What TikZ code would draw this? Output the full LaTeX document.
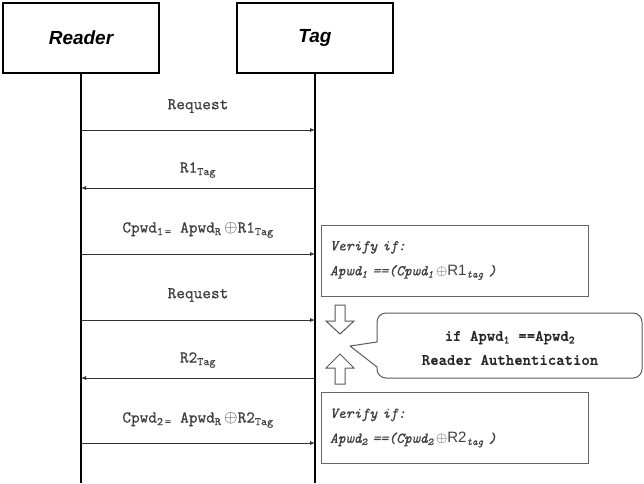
\documentclass[tikz,border=0pt]{standalone}
\usepackage{fontspec}
\newfontfamily\hsans{Liberation Sans}
\newfontfamily\lbmono{lmmono10-regular.otf}[FakeBold=0.8, ItalicFont=lmmono10-italic.otf, ItalicFeatures={FakeBold=0.8}, BoldFont=lmmonolt10-bold.otf]
\usetikzlibrary{arrows.meta}
\tikzset{
  actor/.style={draw, line width=1.3pt, minimum width=156pt, minimum height=70pt, inner sep=0pt,
    font=\hsans\bfseries\itshape\fontsize{19}{22}\selectfont},
  life/.style={line width=2pt},
  msg/.style={-{Latex[length=5pt,width=4pt]}, line width=0.8pt, draw=black!80},
  lbl/.style={font=\lbmono\fontsize{16.5}{18}\selectfont, text=black!75, inner sep=0pt},
  vbox/.style={draw=black!60, line width=0.8pt, minimum width=267pt, minimum height=71pt,
    text width=249pt, inner xsep=9pt, align=left, text=black!75,
    font=\lbmono\itshape\fontsize{15}{25}\selectfont},
  hollow/.style={draw=black!65, line width=1pt, fill=white},
  callout/.style={draw=black!65, line width=1pt},
  ctext/.style={font=\lbmono\bfseries\fontsize{16}{24}\selectfont, align=center, text=black!85, inner sep=0pt}
}
\begin{document}
\begin{tikzpicture}[x=1pt,y=-1pt]
\useasboundingbox (0,0) rectangle (644,483);
% actors
\node[actor] (reader) at (81,38) {Reader};
\node[actor] (tag) at (315,38) {Tag};
\coordinate (rend) at (81,483);
\coordinate (tend) at (315,483);
\draw[life] (reader.south) -- (rend);
\draw[life] (tag.south) -- (tend);
% message points on lifelines
\foreach \n/\y in {1/130,2/188,3/254,4/320,5/378,6/443}{
  \coordinate (r\n) at (81,\y);
  \coordinate (t\n) at (315,\y);
}
\draw[msg] (r1) -- (t1);
\draw[msg] (t2) -- (r2);
\draw[msg] (r3) -- (t3);
\draw[msg] (r4) -- (t4);
\draw[msg] (t5) -- (r5);
\draw[msg] (r6) -- (t6);
% labels
\node[lbl] (l1) at (198,106) {Request};
\node[lbl] (l2) at (198,170) {R1\textsubscript{Tag}};
\node[lbl] (l3) at (198,230) {Cpwd\textsubscript{1\,=} Apwd\textsubscript{R}\,$\oplus$R1\textsubscript{Tag}};
\node[lbl] (l4) at (198,295) {Request};
\node[lbl] (l5) at (198,360) {R2\textsubscript{Tag}};
\node[lbl] (l6) at (198,420) {Cpwd\textsubscript{2\,=} Apwd\textsubscript{R}\,$\oplus$R2\textsubscript{Tag}};
% verify boxes
\node[vbox] (v1) at (454.5,260.5) {Verify if:\\Apwd\textsubscript{1} ==(Cpwd\textsubscript{1}\,$\oplus${\hsans\upshape R1}\textsubscript{tag} )};
\node[vbox] (v2) at (454.5,428) {Verify if:\\Apwd\textsubscript{2} ==(Cpwd\textsubscript{2}\,$\oplus${\hsans\upshape R2}\textsubscript{tag} )};
% hollow arrows
\draw[hollow] (335,305) -- (345,305) -- (345,321) -- (354,321) -- (340,334) -- (326,321) -- (335,321) -- cycle;
\draw[hollow] (335,384) -- (345,384) -- (345,368) -- (354,368) -- (340,354) -- (326,368) -- (335,368) -- cycle;
% callout
\node[ctext] (ct) at (510,348) {if Apwd\textsubscript{1} ==Apwd\textsubscript{2}\\Reader Authentication};
\coordinate (tip) at (350,346);
\draw[callout] (tip) -- (377,342) [rounded corners=9pt] -- (377,313) -- (642,313) -- (642,378) -- (377,378) [sharp corners] -- (377,367) -- (tip);
\end{tikzpicture}
\end{document}
